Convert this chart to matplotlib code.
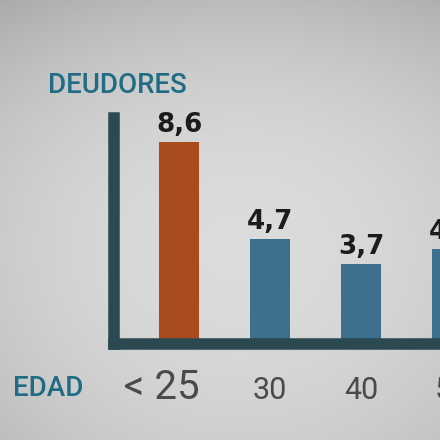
import numpy as np
import matplotlib
matplotlib.use("Agg")
import matplotlib.pyplot as plt

categories = ["< 25", "30", "40", "50"]
values = [8.6, 4.7, 3.7, 4.3]
value_labels = ["8,6", "4,7", "3,7", "4,3"]
bar_colors = ["#a84b1d", "#3d6f8f", "#3d6f8f", "#3d6f8f"]

W = H = 440
fig = plt.figure(figsize=(4.4, 4.4), dpi=100)

# paper-like background with gentle vignette (darker at the top)
bg = fig.add_axes([0, 0, 1, 1], zorder=-10)
yy, xx = np.mgrid[0:1:220j, 0:1:220j]
r = np.sqrt(((xx - 0.55) / 0.75) ** 2 + ((yy - 0.5) / 0.75) ** 2)
shade = 0.865 - 0.12 * np.clip(r, 0, 1.3) ** 2 - 0.08 * (1 - yy) ** 4
img = np.dstack([shade, shade, shade])
bg.imshow(np.clip(img, 0, 1), extent=[0, 1, 0, 1], aspect="auto",
          interpolation="bilinear", origin="upper")
bg.set_axis_off()

# main axes placed in pixel terms
left_px, right_px, top_px, bottom_px = 113.5, 470.0, 117.75, 343.5
ax = fig.add_axes([left_px / W, (H - bottom_px) / H,
                   (right_px - left_px) / W, (bottom_px - top_px) / H])
ax.patch.set_alpha(0)

x = np.arange(len(values))
ax.bar(x, values, width=0.45, color=bar_colors, zorder=1)
ax.set_xlim(-0.7198, 3.1978)
ax.set_ylim(0.502, 9.568)

axis_col = "#2b4950"
for s in ["top", "right"]:
    ax.spines[s].set_visible(False)
for s in ["left", "bottom"]:
    ax.spines[s].set_linewidth(8.3)
    ax.spines[s].set_color(axis_col)
    ax.spines[s].set_capstyle("projecting")
ax.set_xticks([])
ax.set_yticks([])

for xi, v, lab in zip(x, values, value_labels):
    ax.annotate(lab, (xi, v), xytext=(0, 7.2), textcoords="offset points",
                ha="center", va="baseline", fontsize=18.8, fontweight="bold",
                color="#1c1c1c", family="DejaVu Sans", annotation_clip=False)

for i, (xi, lab) in enumerate(zip(x, categories)):
    if i == 0:
        ax.annotate(lab, (xi, 0), xycoords=("data", "axes fraction"),
                    xytext=(15, -40), textcoords="offset points",
                    ha="right", va="baseline", fontsize=29, color="#4a4a4a",
                    family="Roboto", annotation_clip=False)
    else:
        ax.annotate(lab, (xi, 0), xycoords=("data", "axes fraction"),
                    xytext=(0, -40), textcoords="offset points",
                    ha="center", va="baseline", fontsize=22, color="#4a4a4a",
                    family="Roboto", annotation_clip=False)

title_col = "#1f6c84"
fig.text(48 / W, (H - 93) / H, "DEUDORES", fontsize=20, color=title_col,
         family="Roboto", fontweight="medium", ha="left", va="baseline")
fig.text(13 / W, (H - 396) / H, "EDAD", fontsize=20, color=title_col,
         family="Roboto", fontweight="medium", ha="left", va="baseline")

fig.savefig("out.png", dpi=100)
